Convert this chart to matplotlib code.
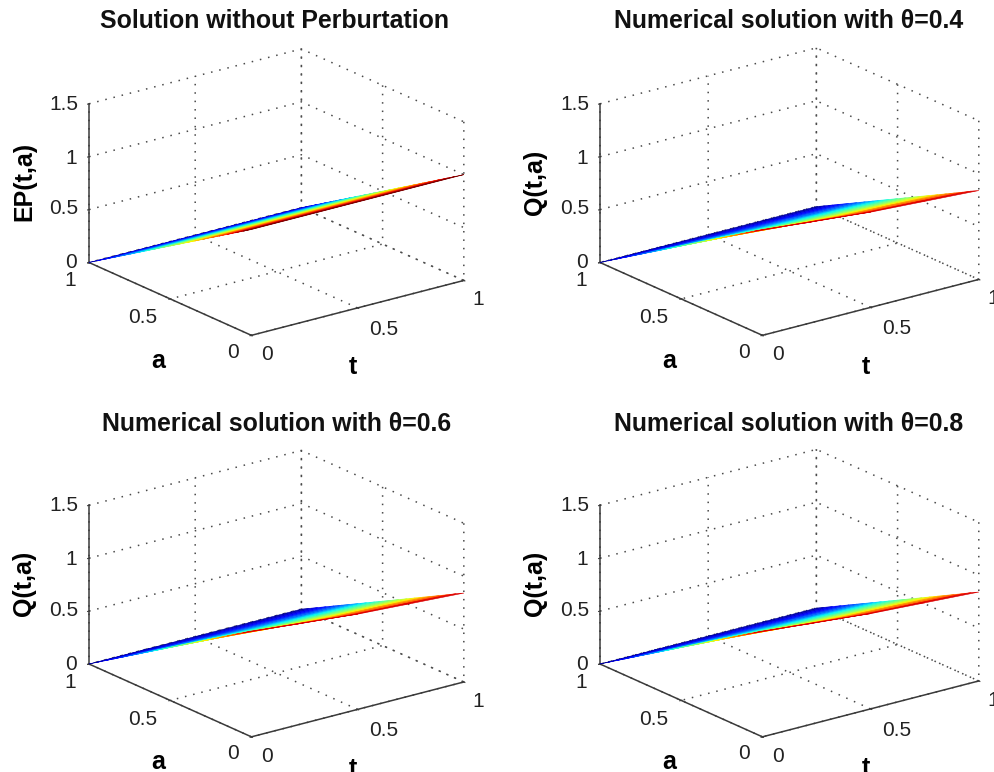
import numpy as np
import matplotlib
matplotlib.use("Agg")
import matplotlib.pyplot as plt
from matplotlib import cm
from matplotlib.transforms import Affine2D

plt.rcParams['font.family'] = ['Liberation Sans', 'DejaVu Sans']

W, H = 995, 772

titles = ["Solution without Perburtation", "Numerical solution with θ=0.4",
          "Numerical solution with θ=0.6", "Numerical solution with θ=0.8"]
zlabels = ["EP(t,a)", "Q(t,a)", "Q(t,a)", "Q(t,a)"]

t_ticks = [0, 0.5, 1]
a_ticks = [0, 0.5, 1]
z_ticks = [0, 0.5, 1, 1.5]
t_tick_labels = ["0", "0.5", "1"]
a_tick_labels = ["0", "0.5", "1"]
z_tick_labels = ["0", "0.5", "1", "1.5"]

a_vals = [0, .05, .10, .15, .20, .25, .30, .35, .40, .45, .50,
          .55, .60, .65, .70, .75, .80, .85, .90, .95, 1]

t_vals_ep = [0, 1]
ep_at_t0 = [1, .95, .90, .85, .80, .75, .70, .65, .60, .55, .50,
            .45, .40, .35, .30, .25, .20, .15, .10, .05, 0]
ep_at_t1 = [1, .95, .90, .85, .80, .75, .70, .65, .60, .55, .50,
            .45, .40, .35, .30, .25, .20, .15, .10, .05, 0]

t_vals_q = [0, .25, .5, .75, 1]
# rows follow a_vals, columns follow t_vals_q
q_values = [
    [1.00, .950, .900, .870, .840],
    [.950, .900, .855, .830, .800],
    [.900, .855, .810, .780, .756],
    [.850, .810, .765, .740, .714],
    [.800, .760, .720, .700, .672],
    [.750, .710, .675, .650, .630],
    [.700, .665, .630, .610, .588],
    [.650, .620, .585, .565, .546],
    [.600, .570, .540, .520, .504],
    [.550, .520, .495, .480, .462],
    [.500, .475, .450, .435, .420],
    [.450, .430, .405, .390, .378],
    [.400, .380, .360, .350, .336],
    [.350, .330, .315, .305, .294],
    [.300, .285, .270, .260, .252],
    [.250, .240, .225, .220, .210],
    [.200, .190, .180, .175, .168],
    [.150, .140, .135, .130, .126],
    [.100, .095, .090, .087, .084],
    [.050, .050, .045, .044, .042],
    [0, 0, 0, 0, 0],
]

GREY = "#3a3a3a"
ANCHORS = [(89, 262.5), (600, 262.5), (89, 664), (600, 664)]
TITLE_POS = [(274, 21), (789, 21), (277, 424), (789, 424)]
BOX = [(267, 269, 169), (272, 269, 169), (267, 269, 169), (272, 269, 169)]
Z_LEN = 158.7

# nudges in pixels (dx right, dy down) from mplot3d's own label positions
T_NUDGE = [(4, -7), (14, -5), (3, -7)]
A_NUDGE = [(-3, -8), (-12, -6), (-3, -7)]
Z_NUDGE = [(7, -8), (0, -9), (7, -7), (0, -8)]
TLABEL_NUDGE = (-36, 15)
ALABEL_NUDGE = (29, 21)
ZLABEL_NUDGE = (7.5, 2)


def nudge(ax, text, offset):
    shifted = ax.transData + Affine2D().translate(offset[0], -offset[1])
    text.get_transform = lambda: shifted


def project(ax, x, y, z):
    v = ax.get_proj() @ np.array([x, y, z, 1.0])
    return ax.transData.transform((v[0] / v[3], v[1] / v[3]))


def place(ax, anchor):
    S = 400.0
    ax.set_position([0, 0, S / W, S / H])
    d = np.hypot(*(project(ax, 0, 0, 1.5) - project(ax, 0, 0, 0)))
    S = S * Z_LEN / d
    ax.set_position([0, 0, S / W, S / H])
    p = project(ax, 0, 1, 0)
    left = anchor[0] - p[0]
    bottom = (H - anchor[1]) - p[1]
    ax.set_position([left / W, bottom / H, S / W, S / H])
    return left, bottom, S


fig = plt.figure(figsize=(W / 100, H / 100), dpi=100)

for i in range(4):
    ax = fig.add_subplot(2, 2, i + 1, projection='3d')
    ax.set_proj_type('ortho')
    ax.view_init(elev=19.9, azim=-127.2)
    ax.set_box_aspect(BOX[i], zoom=1.0)
    ax.set_xlim(0, 1)
    ax.set_ylim(0, 1)
    ax.set_zlim(0, 1.5)
    left, bottom, S = place(ax, ANCHORS[i])

    if i == 0:
        T, A = np.meshgrid(t_vals_ep, a_vals)
        Z = np.column_stack([ep_at_t0, ep_at_t1])
        colors = cm.jet(1 - A)
    else:
        T, A = np.meshgrid(t_vals_q, a_vals)
        Z = np.array(q_values)
        colors = cm.jet(0.92 * (1 - A) ** 1.15)
    ax.plot_surface(T, A, Z, facecolors=colors, rstride=1, cstride=1,
                    shade=False, linewidth=0.4, antialiased=True)

    ax.set_xticks(t_ticks, t_tick_labels)
    ax.set_yticks(a_ticks, a_tick_labels)
    ax.set_zticks(z_ticks, z_tick_labels)
    ax.tick_params(axis='both', labelsize=15, colors=GREY, labelcolor="#222222")
    ax.tick_params(axis='x', pad=3)
    ax.tick_params(axis='y', pad=3)
    ax.tick_params(axis='z', pad=2)

    for axis in (ax.xaxis, ax.yaxis, ax.zaxis):
        axis.set_pane_color((1, 1, 1, 0))
        axis.pane.set_edgecolor((1, 1, 1, 0))
        axis.line.set_color(GREY)
        axis.line.set_linewidth(1.1)
        axis._axinfo['grid'].update(color="#4a4a4a", linestyle=(0, (1, 4.5)), linewidth=1.1)
        axis._axinfo['tick'].update(inward_factor=0.08, outward_factor=0.04)

    for axis, offsets in ((ax.xaxis, T_NUDGE), (ax.yaxis, A_NUDGE), (ax.zaxis, Z_NUDGE)):
        for tick, off in zip(axis.get_major_ticks(), offsets):
            nudge(ax, tick.label1, off)

    ax.set_xlabel("t", fontsize=18, fontweight='bold', labelpad=8)
    ax.set_ylabel("a", fontsize=18, fontweight='bold', labelpad=8)
    ax.zaxis.set_rotate_label(False)
    ax.set_zlabel(zlabels[i], fontsize=18, fontweight='bold', rotation=90, labelpad=8)
    nudge(ax, ax.xaxis.label, TLABEL_NUDGE)
    nudge(ax, ax.yaxis.label, ALABEL_NUDGE)
    nudge(ax, ax.zaxis.label, ZLABEL_NUDGE)

    tx, ty = TITLE_POS[i]
    tpos = ((tx - left) / S, (H - ty - bottom) / S)
    ax.set_title(titles[i], fontsize=17.9, fontweight='bold', color="#111111",
                 pad=0, va='center', ha='center', y=tpos[1])
    ax.title.set_position(tpos)

fig.savefig("out.png", dpi=100)
